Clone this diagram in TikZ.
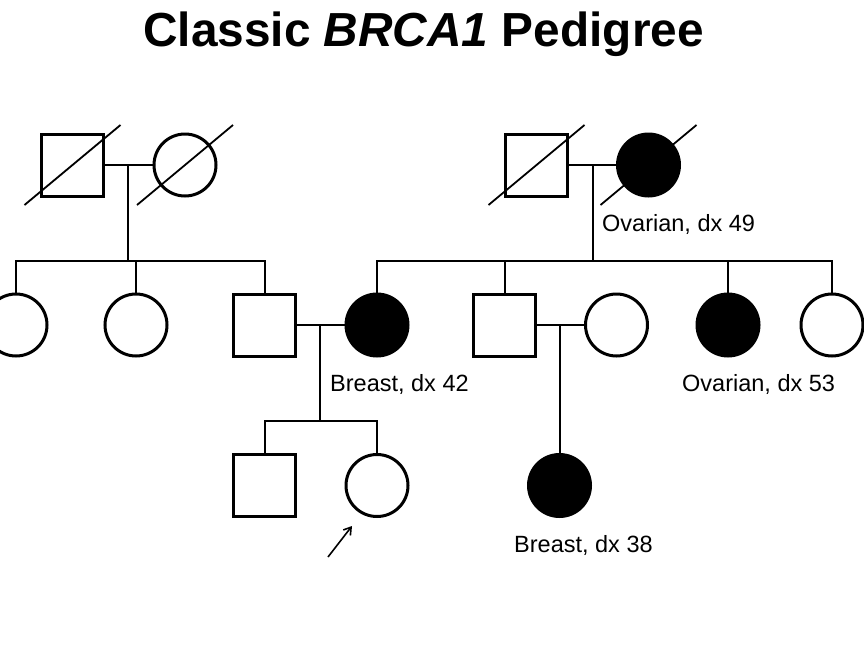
\documentclass[tikz,border=0pt]{standalone}
\usepackage{fontspec}
\setmainfont{Liberation Sans}
\usetikzlibrary{arrows.meta}
\tikzset{
  person/.style={draw, line width=3pt, inner sep=0pt, minimum size=62pt},
  male/.style={person, rectangle},
  female/.style={person, circle},
  affected/.style={fill=black},
  conn/.style={line width=2pt},
  slashline/.style={line width=1.8pt},
  lbl/.style={inner sep=0pt, anchor=base west, font=\fontsize{23.5}{28}\selectfont},
}
\begin{document}
\begin{tikzpicture}[x=1pt,y=-1pt]
\useasboundingbox (0,0) rectangle (864,648);
\clip (0,0) rectangle (864,648);
\fill[white] (0,0) rectangle (864,648);
% title
\node[inner sep=0pt, anchor=base, font=\fontsize{47.8}{56}\selectfont\bfseries] (title) at (423.5,46.5) {Classic \textit{BRCA1} Pedigree};
% generation 1
\node[male] (gf1) at (72.5,165) {};
\node[female] (gm1) at (185,165) {};
\node[male] (gf2) at (536.5,165) {};
\node[female, affected] (gm2) at (648.5,165) {};
% generation 2
\node[female] (a1) at (16,325) {};
\node[female] (a2) at (136,325) {};
\node[male] (a3) at (264.5,325) {};
\node[female, affected] (b0) at (377,325) {};
\node[male] (b1) at (504.5,325) {};
\node[female] (b1w) at (616.5,325) {};
\node[female, affected] (b2) at (728,325) {};
\node[female] (b3) at (832,325) {};
% generation 3
\node[male] (c1) at (264.5,485.5) {};
\node[female] (c2) at (377,485.5) {};
\node[female, affected] (d1) at (559.5,485.5) {};
% deceased slashes
\foreach \p in {gf1,gm1,gf2,gm2}{
  \draw[slashline] ([shift={(-48,40)}]\p.center) -- ([shift={(48,-40)}]\p.center);
}
% coordinates
\coordinate (m1) at (128,165);
\coordinate (s1) at (128,261);
\coordinate (m2) at (593,165);
\coordinate (s2) at (593,261);
\coordinate (m3) at (320,325);
\coordinate (s3) at (320,421);
\coordinate (m4) at (559.5,325);
% connectors
\draw[conn] (gf1.east) -- (gm1.west);
\draw[conn] (m1) -- (s1);
\draw[conn] (a1.north) -- (a1.north |- s1) -- (a3.north |- s1) -- (a3.north);
\draw[conn] (a2.north) -- (a2.north |- s1);
\draw[conn] (gf2.east) -- (gm2.west);
\draw[conn] (m2) -- (s2);
\draw[conn] (b0.north) -- (b0.north |- s2) -- (b3.north |- s2) -- (b3.north);
\draw[conn] (b1.north) -- (b1.north |- s2);
\draw[conn] (b2.north) -- (b2.north |- s2);
\draw[conn] (a3.east) -- (b0.west);
\draw[conn] (m3) -- (s3);
\draw[conn] (c1.north) -- (c1.north |- s3) -- (c2.north |- s3) -- (c2.north);
\draw[conn] (b1.east) -- (b1w.west);
\draw[conn] (m4) -- (d1.north);
% proband arrow
\coordinate (pa) at (328,557);
\coordinate (pb) at (352,526);
\draw[line width=1.6pt, -{Straight Barb[length=7pt,width=9pt]}] (pa) -- (pb);
% labels
\node[lbl] (l1) at (602,231) {Ovarian, dx 49};
\node[lbl] (l2) at (330,391) {Breast, dx 42};
\node[lbl] (l3) at (682,391) {Ovarian, dx 53};
\node[lbl] (l4) at (514,552) {Breast, dx 38};
\end{tikzpicture}
\end{document}
